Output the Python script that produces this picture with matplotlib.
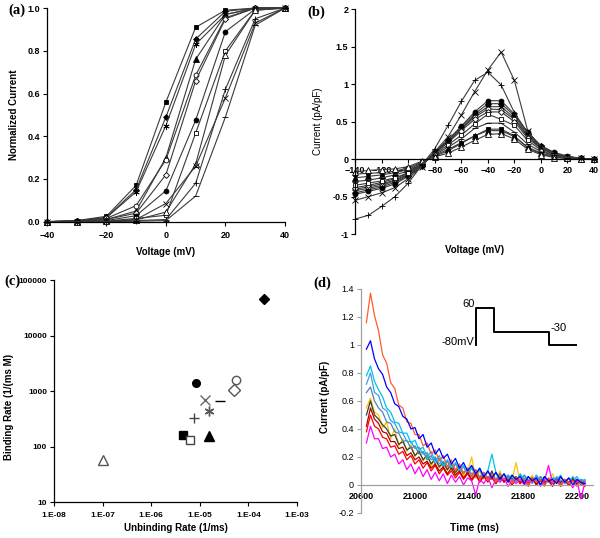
import matplotlib.pyplot as plt
import numpy as np

plt.rcParams['font.family'] = ['Liberation Sans', 'DejaVu Sans']

# ---- data ----
series = ['fsq', 'fdia', 'ast', 'ftri', 'ocirc', 'odia', 'fcirc', 'osq', 'otri', 'x', 'plus', 'dash']

# (a) normalized activation
volt_a = [-40, -30, -20, -10, 0, 10, 20, 30, 40]
act_a = [
    [0, 0.005, 0.025, 0.17, 0.56, 0.91, 0.99, 1.0, 1.0],
    [0, 0.004, 0.02, 0.15, 0.49, 0.855, 0.985, 1.0, 1.0],
    [0, 0.004, 0.018, 0.14, 0.45, 0.83, 0.97, 1.0, 1.0],
    [0, 0.002, 0.01, 0.05, 0.30, 0.76, 0.97, 1.0, 1.0],
    [0, 0.003, 0.015, 0.075, 0.29, 0.685, 0.955, 1.0, 1.0],
    [0, 0.002, 0.01, 0.04, 0.22, 0.66, 0.95, 1.0, 1.0],
    [0, 0.001, 0.005, 0.028, 0.145, 0.475, 0.89, 0.995, 1.0],
    [0, 0.0, 0.003, 0.015, 0.03, 0.415, 0.80, 0.99, 1.0],
    [0, 0.0, 0.002, 0.008, 0.045, 0.27, 0.78, 0.99, 1.0],
    [0, 0.0, 0.002, 0.01, 0.085, 0.26, 0.58, 0.93, 1.0],
    [0, 0.0, 0.001, 0.005, 0.01, 0.18, 0.62, 0.95, 1.0],
    [0, 0.0, 0.0, 0.002, 0.005, 0.12, 0.49, 0.92, 1.0],
]

# (b) I-V curves
volt_b = [-140, -130, -120, -110, -100, -90, -80, -70, -60, -50, -40, -30, -20, -10, 0, 10, 20, 30, 40]
iv_b = [
    [-0.2, -0.19, -0.18, -0.16, -0.12, -0.04, 0.04, 0.11, 0.21, 0.31, 0.4, 0.4, 0.31, 0.15, 0.07, 0.03, 0.01, 0.0, 0.0],
    [-0.45, -0.41, -0.37, -0.31, -0.22, -0.09, 0.09, 0.25, 0.43, 0.6, 0.74, 0.74, 0.58, 0.33, 0.17, 0.08, 0.03, 0.01, 0.0],
    [-0.42, -0.39, -0.35, -0.29, -0.21, -0.08, 0.09, 0.24, 0.41, 0.58, 0.7, 0.7, 0.55, 0.31, 0.16, 0.07, 0.03, 0.01, 0.0],
    [-0.25, -0.23, -0.21, -0.18, -0.14, -0.05, 0.05, 0.13, 0.22, 0.31, 0.38, 0.38, 0.3, 0.16, 0.08, 0.04, 0.01, 0.0, 0.0],
    [-0.4, -0.37, -0.33, -0.28, -0.2, -0.08, 0.08, 0.23, 0.4, 0.56, 0.67, 0.66, 0.53, 0.3, 0.15, 0.07, 0.03, 0.01, 0.0],
    [-0.38, -0.35, -0.31, -0.26, -0.19, -0.07, 0.08, 0.22, 0.38, 0.53, 0.63, 0.63, 0.5, 0.28, 0.14, 0.06, 0.03, 0.01, 0.0],
    [-0.47, -0.43, -0.39, -0.33, -0.23, -0.09, 0.1, 0.26, 0.44, 0.63, 0.78, 0.78, 0.6, 0.36, 0.18, 0.09, 0.04, 0.01, 0.0],
    [-0.35, -0.32, -0.29, -0.25, -0.18, -0.07, 0.07, 0.19, 0.32, 0.47, 0.6, 0.53, 0.45, 0.25, 0.12, 0.05, 0.02, 0.01, 0.0],
    [-0.17, -0.15, -0.14, -0.13, -0.1, -0.03, 0.03, 0.08, 0.16, 0.25, 0.33, 0.34, 0.27, 0.13, 0.06, 0.02, 0.01, 0.0, 0.0],
    [-0.55, -0.5, -0.45, -0.38, -0.26, -0.1, 0.1, 0.3, 0.59, 0.9, 1.19, 1.43, 1.05, 0.38, 0.15, 0.07, 0.03, 0.01, 0.0],
    [-0.8, -0.75, -0.63, -0.5, -0.32, -0.085, 0.14, 0.45, 0.77, 1.05, 1.16, 0.99, 0.62, 0.35, 0.17, 0.08, 0.03, 0.01, 0.0],
    [-0.3, -0.28, -0.25, -0.21, -0.16, -0.06, 0.06, 0.16, 0.27, 0.41, 0.48, 0.48, 0.36, 0.2, 0.1, 0.05, 0.02, 0.01, 0.0],
]

# (c) rates
unbind_c = [4.6e-6, 2.1e-4, 1.55e-5, 1.55e-5, 5.6e-5, 5.0e-5, 8.4e-6, 6.3e-6, 1e-7, 1.25e-5, 7.6e-6, 2.6e-5]
bind_c = [160, 45000, 440, 155, 1600, 1030, 1400, 132, 58, 690, 330, 650]

# (d) current traces, sampled every 30 ms from 20640 ms
time_d = np.arange(20640, 22261, 30)
trace_yellow = [0.55, 0.62, 0.52, 0.5, 0.41, 0.45, 0.33, 0.4, 0.28, 0.33, 0.24,
                0.29, 0.2, 0.26, 0.17, 0.23, 0.13, 0.2, 0.12, 0.16, 0.1, 0.15,
                0.07, 0.14, 0.06, 0.09, 0.2, 0.05, 0.1, 0.04, 0.09, 0.07, 0.03,
                0.1, 0.02, 0.06, 0.04, 0.16, 0.01, 0.05, 0.03, 0.07, 0.0, 0.06,
                0.04, 0.02, 0.08, 0.01, 0.05, 0.03, 0.0, 0.06, 0.02, 0.04, 0.01]
trace_dkgreen = [0.5, 0.6, 0.5, 0.47, 0.43, 0.4, 0.35, 0.36, 0.29, 0.31, 0.25,
                 0.27, 0.21, 0.24, 0.18, 0.21, 0.15, 0.19, 0.13, 0.16, 0.11, 0.15,
                 0.09, 0.13, 0.08, 0.12, 0.06, 0.11, 0.05, 0.09, 0.04, 0.1, 0.03,
                 0.08, 0.02, 0.07, 0.04, 0.06, 0.01, 0.07, 0.03, 0.05, 0.0, 0.06,
                 0.02, 0.04, 0.01, 0.05, 0.02, 0.04, 0.0, 0.05, 0.01, 0.03, 0.02]
trace_steel = [0.66, 0.7, 0.6, 0.55, 0.52, 0.45, 0.44, 0.38, 0.37, 0.31, 0.32,
               0.26, 0.28, 0.22, 0.24, 0.18, 0.21, 0.15, 0.19, 0.13, 0.17, 0.11,
               0.15, 0.1, 0.13, 0.08, 0.12, 0.07, 0.11, 0.05, 0.1, 0.04, 0.09,
               0.03, 0.08, 0.02, 0.07, 0.03, 0.07, 0.01, 0.06, 0.02, 0.07, 0.0,
               0.06, 0.02, 0.05, 0.03, 0.06, 0.01, 0.05, 0.02, 0.04, 0.0, 0.03]
trace_ltblue = [0.72, 0.8, 0.66, 0.64, 0.55, 0.53, 0.46, 0.44, 0.38, 0.37, 0.31,
                0.31, 0.26, 0.27, 0.22, 0.23, 0.18, 0.2, 0.15, 0.17, 0.13, 0.15,
                0.11, 0.13, 0.09, 0.12, 0.08, 0.1, 0.06, 0.09, 0.05, 0.08, 0.04,
                0.08, 0.03, 0.07, 0.03, 0.06, 0.02, 0.07, 0.02, 0.05, 0.03, 0.06,
                0.01, 0.05, 0.02, 0.06, 0.03, 0.04, 0.01, 0.06, 0.02, 0.04, 0.03]
trace_cyan = [0.78, 0.85, 0.74, 0.68, 0.63, 0.55, 0.52, 0.45, 0.44, 0.37, 0.37,
              0.3, 0.32, 0.25, 0.27, 0.2, 0.24, 0.17, 0.21, 0.14, 0.18, 0.12,
              0.16, 0.1, 0.14, 0.08, 0.13, 0.07, 0.12, 0.05, 0.1, 0.22, 0.09,
              0.03, 0.08, 0.05, 0.07, 0.02, 0.08, 0.04, 0.06, 0.01, 0.07, 0.03,
              0.06, 0.02, 0.05, 0.04, 0.07, 0.01, 0.05, 0.03, 0.06, 0.02, 0.04]
trace_red = [0.38, 0.5, 0.42, 0.4, 0.34, 0.33, 0.27, 0.28, 0.22, 0.24, 0.18,
             0.21, 0.15, 0.18, 0.12, 0.16, 0.1, 0.14, 0.08, 0.12, 0.07, 0.1,
             0.05, 0.09, 0.04, 0.08, 0.03, 0.07, 0.02, 0.06, 0.03, 0.05, 0.01,
             0.06, 0.02, 0.04, 0.0, 0.05, 0.01, 0.04, -0.01, 0.05, 0.02, 0.03,
             0.0, 0.04, 0.01, 0.03, -0.01, 0.04, 0.02, 0.03, 0.0, 0.02, -0.01]
trace_dkred = [0.42, 0.55, 0.47, 0.44, 0.38, 0.37, 0.31, 0.31, 0.26, 0.27, 0.21,
               0.23, 0.18, 0.2, 0.15, 0.17, 0.12, 0.15, 0.1, 0.13, 0.08, 0.12,
               0.07, 0.1, 0.05, 0.09, 0.04, 0.08, 0.03, 0.07, 0.02, 0.08, 0.01,
               0.06, 0.03, 0.05, 0.0, 0.06, 0.02, 0.04, 0.01, 0.05, 0.0, 0.04,
               0.02, 0.03, -0.01, 0.04, 0.01, 0.03, 0.0, 0.04, 0.01, 0.02, 0.0]
trace_magenta = [0.3, 0.42, 0.33, 0.33, 0.26, 0.27, 0.2, 0.22, 0.15, 0.18, 0.11,
                 0.15, 0.08, 0.13, 0.06, 0.11, 0.04, 0.09, 0.03, 0.08, 0.01, 0.07,
                 0.02, 0.06, 0.0, 0.05, 0.03, -0.07, 0.04, 0.01, 0.06, -0.02, 0.04,
                 0.02, 0.05, -0.01, 0.03, 0.01, 0.04, 0.0, 0.03, 0.02, 0.05, -0.01,
                 0.03, 0.14, 0.01, 0.04, 0.0, 0.03, 0.02, -0.02, 0.04, -0.1, 0.02]
trace_orange = [1.16, 1.37, 1.21, 1.1, 0.93, 0.87, 0.73, 0.69, 0.57, 0.55, 0.45,
                0.44, 0.36, 0.36, 0.28, 0.3, 0.22, 0.25, 0.17, 0.21, 0.13, 0.18,
                0.1, 0.15, 0.08, 0.12, 0.06, 0.11, 0.04, 0.09, 0.03, 0.08, 0.02,
                0.07, 0.04, 0.05, 0.01, 0.06, 0.03, 0.04, 0.0, 0.05, 0.02, 0.04,
                -0.01, 0.05, 0.02, 0.03, 0.0, 0.04, 0.01, 0.03, -0.01, 0.03, 0.01]
trace_blue = [0.97, 1.03, 0.9, 0.83, 0.79, 0.7, 0.66, 0.58, 0.56, 0.49, 0.47,
              0.4, 0.41, 0.33, 0.36, 0.27, 0.3, 0.22, 0.26, 0.19, 0.22, 0.15,
              0.19, 0.12, 0.16, 0.1, 0.14, 0.08, 0.12, 0.06, 0.1, 0.05, 0.09,
              0.04, 0.08, 0.02, 0.07, 0.04, 0.06, 0.01, 0.06, 0.03, 0.05, 0.0,
              0.06, 0.03, 0.04, 0.01, 0.06, 0.02, 0.05, 0.0, 0.04, 0.02, 0.01]

# voltage protocol inset (d)
prot_t = [21455, 21455, 21587, 21587, 21993, 21993, 22192]
prot_v = [1.0, 1.264, 1.264, 1.093, 1.093, 1.0, 1.0]

# ---- styles ----
mk = {
    'fsq': dict(marker='s', mfc='black', ms=3.5),
    'fdia': dict(marker='D', mfc='black', ms=3),
    'ast': dict(marker=(6, 2, 0), mfc='none', ms=4.5),
    'ftri': dict(marker='^', mfc='black', ms=4),
    'ocirc': dict(marker='o', mfc='white', ms=3.5),
    'odia': dict(marker='D', mfc='white', ms=3),
    'fcirc': dict(marker='o', mfc='black', ms=3.5),
    'osq': dict(marker='s', mfc='white', ms=3.5),
    'otri': dict(marker='^', mfc='white', ms=4),
    'x': dict(marker='x', mfc='none', ms=4),
    'plus': dict(marker='+', mfc='none', ms=4.5),
    'dash': dict(marker='_', mfc='none', ms=4.5),
}

fig = plt.figure(figsize=(6, 5.38), dpi=100)


def style_ax(ax, bold=True, color='black'):
    for s in ['top', 'right']:
        ax.spines[s].set_visible(False)
    for s in ['left', 'bottom']:
        ax.spines[s].set_color(color)
        ax.spines[s].set_linewidth(0.9)
    ax.tick_params(direction='out', length=3, width=0.8, colors=color, labelcolor='black',
                   labelsize=6.5, pad=2)
    if bold:
        for lab in ax.get_xticklabels() + ax.get_yticklabels():
            lab.set_fontweight('bold')


# (a)
ax_a = fig.add_axes([0.078, 0.588, 0.397, 0.397])
for name, vals in zip(series, act_a):
    ax_a.plot(volt_a, vals, color='#3a3a3a', lw=0.8, mec='black', mew=0.6,
              clip_on=False, **mk[name])
ax_a.set_xlim(-40, 40)
ax_a.set_ylim(0, 1.0)
ax_a.set_xticks([-40, -20, 0, 20, 40])
ax_a.set_yticks([0, 0.2, 0.4, 0.6, 0.8, 1.0])
ax_a.set_yticklabels(['0.0', '0.2', '0.4', '0.6', '0.8', '1.0'])
style_ax(ax_a)
ax_a.tick_params(axis='x', pad=4)
ax_a.set_xlabel('Voltage (mV)', fontsize=7, fontweight='bold')
ax_a.set_ylabel('Normalized Current', fontsize=7, fontweight='bold')
ax_a.xaxis.set_label_coords(0.5, -0.119)
ax_a.yaxis.set_label_coords(-0.118, 0.5)

# (b)
ax_b = fig.add_axes([0.592, 0.565, 0.398, 0.4177])
for name, vals in zip(series, iv_b):
    ax_b.plot(volt_b, vals, color='#3a3a3a', lw=0.8, mec='black', mew=0.6,
              clip_on=False, **mk[name])
ax_b.set_xlim(-140, 40)
ax_b.set_ylim(-1, 2)
ax_b.set_xticks(range(-140, 41, 20))
ax_b.set_yticks([-1, -0.5, 0, 0.5, 1, 1.5, 2])
ax_b.set_yticklabels(['-1', '-0.5', '0', '0.5', '1', '1.5', '2'])
ax_b.spines['bottom'].set_position(('data', 0))
style_ax(ax_b)
ax_b.set_xlabel('Voltage (mV)', fontsize=7, fontweight='bold')
ax_b.set_ylabel('Current (pA/pF)', fontsize=7)
ax_b.xaxis.set_label_coords(0.5, -0.049)
ax_b.yaxis.set_label_coords(-0.134, 0.5)

# (c)
ax_c = fig.add_axes([0.09, 0.0669, 0.405, 0.4126])
c_colors = {'otri': '#555555', 'osq': '#444444', 'odia': '#555555', 'ocirc': '#555555',
            'x': '#666666', 'ast': '#555555', 'plus': '#444444'}
c_sizes = {'fsq': 6, 'fdia': 5.5, 'ast': 7, 'ftri': 6.5, 'ocirc': 6, 'odia': 6,
           'fcirc': 5.5, 'osq': 6, 'otri': 6.5, 'x': 7, 'plus': 7, 'dash': 7}
for name, xv, yv in zip(series, unbind_c, bind_c):
    st = dict(mk[name])
    st['ms'] = c_sizes[name]
    ec = c_colors.get(name, 'black')
    ax_c.plot([xv], [yv], linestyle='none', mec=ec, mew=1.0, **st)
ax_c.set_xscale('log')
ax_c.set_yscale('log')
ax_c.set_xlim(1e-8, 1e-3)
ax_c.set_ylim(10, 1e5)
ax_c.set_xticks([1e-8, 1e-7, 1e-6, 1e-5, 1e-4, 1e-3])
ax_c.set_xticklabels(['1.E-08', '1.E-07', '1.E-06', '1.E-05', '1.E-04', '1.E-03'])
ax_c.set_yticks([10, 100, 1000, 10000, 100000])
ax_c.set_yticklabels(['10', '100', '1000', '10000', '100000'])
ax_c.minorticks_off()
style_ax(ax_c)
ax_c.tick_params(labelsize=6)
ax_c.tick_params(axis='x', pad=4)
ax_c.set_xlabel('Unbinding Rate (1/ms)', fontsize=7, fontweight='bold')
ax_c.set_ylabel('Binding Rate (1/(ms M)', fontsize=7, fontweight='bold')
ax_c.xaxis.set_label_coords(0.5, -0.095)
ax_c.yaxis.set_label_coords(-0.165, 0.43)

# (d)
ax_d = fig.add_axes([0.6017, 0.0465, 0.3867, 0.4164])
traces = [(trace_yellow, '#FFC000'), (trace_dkgreen, '#2F4030'), (trace_steel, '#4F81BD'),
          (trace_ltblue, '#3AA0E0'), (trace_cyan, '#00C0F0'), (trace_red, '#FF0000'),
          (trace_dkred, '#B00000'), (trace_magenta, '#FF00FF'), (trace_orange, '#FF5A30'),
          (trace_blue, '#0000FF')]
for vals, col in traces:
    ax_d.plot(time_d, vals, color=col, lw=0.9)
ax_d.plot(prot_t, prot_v, color='black', lw=1.4)
ax_d.text(21440, 1.29, '60', ha='right', va='center', fontsize=8)
ax_d.text(21440, 1.02, '-80mV', ha='right', va='center', fontsize=8)
ax_d.text(22005, 1.12, '-30', ha='left', va='center', fontsize=8)
ax_d.set_xlim(20600, 22320)
ax_d.set_ylim(-0.2, 1.4)
ax_d.set_xticks([20600, 21000, 21400, 21800, 22200])
ax_d.set_yticks([-0.2, 0, 0.2, 0.4, 0.6, 0.8, 1.0, 1.2, 1.4])
ax_d.set_yticklabels(['-0.2', '0', '0.2', '0.4', '0.6', '0.8', '1', '1.2', '1.4'])
ax_d.spines['bottom'].set_position(('data', 0))
style_ax(ax_d, bold=False, color='#A0A0A0')
ax_d.tick_params(axis='x', length=0, pad=5)
for lab in ax_d.get_xticklabels():
    lab.set_fontweight('bold')
ax_d.set_xlabel('Time (ms)', fontsize=7.5, fontweight='bold')
ax_d.set_ylabel('Current (pA/pF)', fontsize=7, fontweight='bold')
ax_d.xaxis.set_label_coords(0.49, -0.045)
ax_d.yaxis.set_label_coords(-0.134, 0.52)

# panel letters
for lbl, x, y in [('(a)', 0.028, 0.981), ('(b)', 0.527, 0.978),
                  ('(c)', 0.021, 0.478), ('(d)', 0.538, 0.474)]:
    fig.text(x, y, lbl, family='Liberation Serif', fontweight='bold', fontsize=10.5,
             ha='center', va='center')

fig.savefig('out.png', dpi=100)
